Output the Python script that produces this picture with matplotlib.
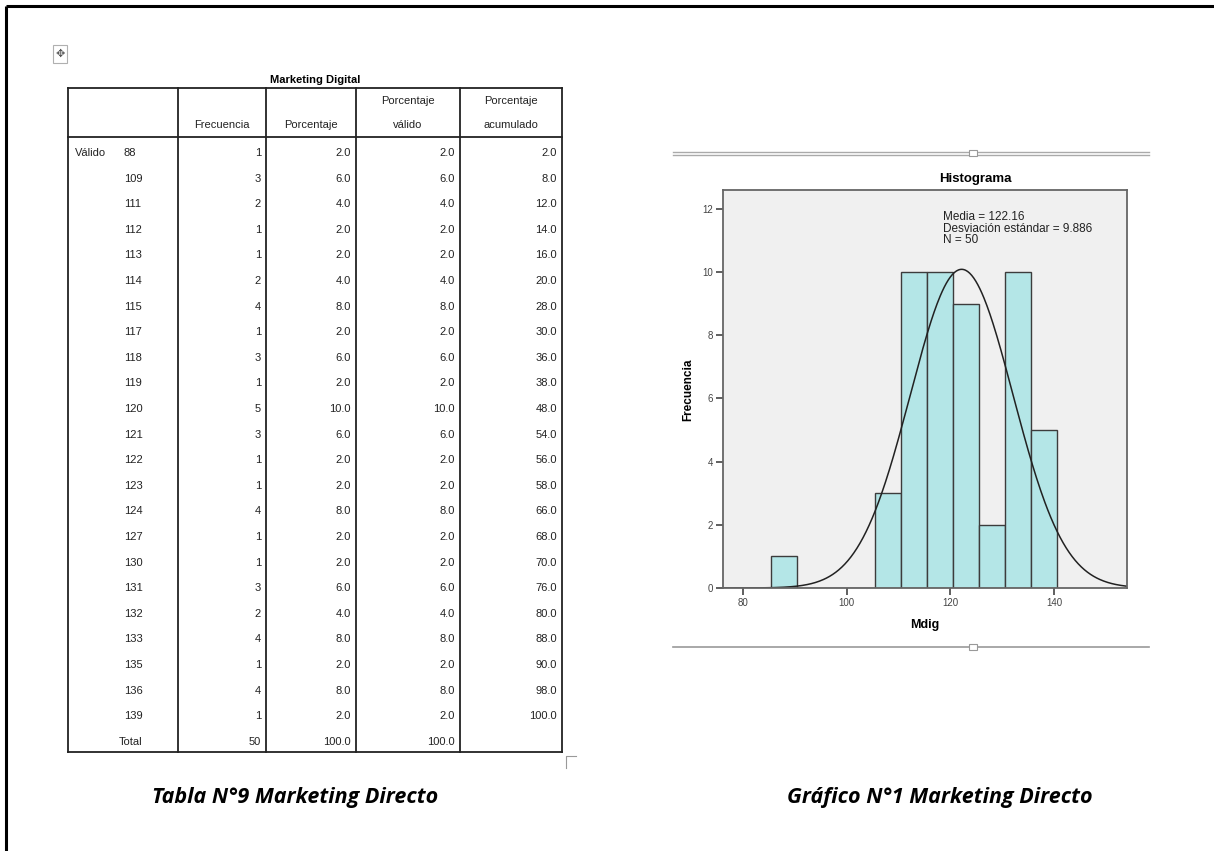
import matplotlib.pyplot as plt
import numpy as np

# datos de la tabla (Marketing Digital)
valores = [88, 109, 111, 112, 113, 114, 115, 117, 118, 119, 120, 121,
           122, 123, 124, 127, 130, 131, 132, 133, 135, 136, 139]
frecuencia = [1, 3, 2, 1, 1, 2, 4, 1, 3, 1, 5, 3, 1, 1, 4, 1, 1, 3, 2, 4, 1, 4, 1]
porcentaje = [2.0, 6.0, 4.0, 2.0, 2.0, 4.0, 8.0, 2.0, 6.0, 2.0, 10.0, 6.0,
              2.0, 2.0, 8.0, 2.0, 2.0, 6.0, 4.0, 8.0, 2.0, 8.0, 2.0]
porcentaje_valido = porcentaje
acumulado = [2.0, 8.0, 12.0, 14.0, 16.0, 20.0, 28.0, 30.0, 36.0, 38.0, 48.0, 54.0,
             56.0, 58.0, 66.0, 68.0, 70.0, 76.0, 80.0, 88.0, 90.0, 98.0, 100.0]
total_n = 50

# estadisticos del histograma
media = 122.16
desviacion = 9.886
bordes = [85.5, 90.5, 95.5, 100.5, 105.5, 110.5, 115.5, 120.5, 125.5, 130.5, 135.5, 140.5]

W, H = 1214, 851
fig = plt.figure(figsize=(W / 100, H / 100), dpi=100)
plt.rcParams['font.family'] = ['Liberation Sans', 'DejaVu Sans']

fondo = fig.add_axes([0, 0, 1, 1])
fondo.set_xlim(0, W)
fondo.set_ylim(H, 0)
fondo.axis('off')

# borde de la pagina
fondo.plot([6, W], [6, 6], color='black', lw=2.2, solid_capstyle='butt')
fondo.plot([6, 6], [6, H], color='black', lw=2.2, solid_capstyle='butt')

# icono de mover
fondo.add_patch(plt.Rectangle((53, 45), 14, 18, fill=False, ec='#b0b0b0', lw=0.8))
fondo.text(60, 54, '\u2725', fontsize=8, ha='center', va='center', color='#555555',
           family='DejaVu Sans')

# ----------------------------- tabla -----------------------------
x_cols = [68, 178, 266, 356, 460, 562]
y_top, y_head, y_bot = 88, 137, 752
fila0, paso = 153, 25.6
fs_tabla = 8
tinta = '#222222'

fondo.text(315, 80, 'Marketing Digital', fontsize=fs_tabla, fontweight='bold', ha='center', va='center')
for xc in x_cols:
    fondo.plot([xc, xc], [y_top, y_bot], color=tinta, lw=1.3)
fondo.plot([x_cols[0], x_cols[-1]], [y_top, y_top], color=tinta, lw=1.3)
fondo.plot([x_cols[0], x_cols[-1]], [y_head, y_head], color=tinta, lw=1.3)
fondo.plot([x_cols[0], x_cols[-1]], [y_bot, y_bot], color=tinta, lw=1.3)

encabezados = [('', 'Frecuencia'), ('', 'Porcentaje'), ('Porcentaje', 'válido'),
               ('Porcentaje', 'acumulado')]
for i, (l1, l2) in enumerate(encabezados):
    xc = (x_cols[i + 1] + x_cols[i + 2]) / 2
    fondo.text(xc, 101, l1, fontsize=fs_tabla, ha='center', va='center', color=tinta)
    fondo.text(xc, 125, l2, fontsize=fs_tabla, ha='center', va='center', color=tinta)

x_val = 124
fondo.text(75, fila0, 'Válido', fontsize=fs_tabla, ha='left', va='center', color=tinta)
for i, v in enumerate(valores):
    y = fila0 + i * paso
    fondo.text(x_val, y, str(v), fontsize=fs_tabla, ha='left', va='center', color=tinta)
    fondo.text(x_cols[2] - 5, y, str(frecuencia[i]), fontsize=fs_tabla, ha='right', va='center', color=tinta)
    fondo.text(x_cols[3] - 5, y, f'{porcentaje[i]:.1f}', fontsize=fs_tabla, ha='right', va='center', color=tinta)
    fondo.text(x_cols[4] - 5, y, f'{porcentaje_valido[i]:.1f}', fontsize=fs_tabla, ha='right', va='center', color=tinta)
    fondo.text(x_cols[5] - 5, y, f'{acumulado[i]:.1f}', fontsize=fs_tabla, ha='right', va='center', color=tinta)
y = fila0 + len(valores) * paso
fondo.text(x_val - 5, y, 'Total', fontsize=fs_tabla, ha='left', va='center', color=tinta)
fondo.text(x_cols[2] - 5, y, str(total_n), fontsize=fs_tabla, ha='right', va='center', color=tinta)
fondo.text(x_cols[3] - 5, y, f'{sum(porcentaje):.1f}', fontsize=fs_tabla, ha='right', va='center', color=tinta)
fondo.text(x_cols[4] - 5, y, f'{sum(porcentaje_valido):.1f}', fontsize=fs_tabla, ha='right', va='center', color=tinta)

# marca de esquina
fondo.plot([566, 566, 576], [768, 756, 756], color='#999999', lw=0.8)

# lineas del grafico
fondo.plot([673, 1149], [152, 152], color='#aaaaaa', lw=1)
fondo.plot([673, 1149], [155, 155], color='#aaaaaa', lw=1)
fondo.plot([673, 1149], [647, 647], color='#999999', lw=1.2)
for yy in (153, 647):
    fondo.add_patch(plt.Rectangle((969, yy - 3), 8, 6, fc='white', ec='#999999', lw=0.8, zorder=3))

# leyendas al pie
fondo.text(295, 797, 'Tabla N°9 Marketing Directo', fontsize=15.5, fontweight='bold',
           style='italic', ha='center', va='center', family='Open Sans')
fondo.text(940, 797, 'Gráfico N°1 Marketing Directo', fontsize=15.5, fontweight='bold',
           style='italic', ha='center', va='center', family='Open Sans')

# ----------------------------- histograma -----------------------------
ax_l, ax_r, ax_t, ax_b = 723, 1127, 190, 588
ax = fig.add_axes([ax_l / W, 1 - ax_b / H, (ax_r - ax_l) / W, (ax_b - ax_t) / H])
ax.set_facecolor('#f0f0f0')
ax.hist(valores, bins=bordes, weights=frecuencia, color='#b4e6e7', edgecolor='#3c3c3c', lw=1)

xs = np.linspace(76, 154, 400)
ancho = bordes[1] - bordes[0]
curva = total_n * ancho / (desviacion * np.sqrt(2 * np.pi)) * np.exp(-0.5 * ((xs - media) / desviacion) ** 2)
ax.plot(xs, curva, color='#222222', lw=1.1)

ax.set_xlim(76.2, 154)
ax.set_ylim(0, 12.6)
ax.set_xticks([80, 100, 120, 140])
ax.set_yticks([0, 2, 4, 6, 8, 10, 12])
ax.tick_params(axis='both', labelsize=7, labelcolor='#444444', color='#444444',
               length=5, width=1.2, pad=2)
for s in ax.spines.values():
    s.set_color('#666666')
    s.set_linewidth(1.3)

# capa superior para textos del grafico
sobre = fig.add_axes([0, 0, 1, 1])
sobre.set_xlim(0, W)
sobre.set_ylim(H, 0)
sobre.axis('off')
sobre.patch.set_alpha(0)

sobre.text(975, 179, 'Histograma', fontsize=9.5, fontweight='bold', ha='center', va='center')
sobre.text(943, 211, f'Media = {media}\nDesviación estándar = {desviacion}\nN = {total_n}',
           fontsize=8.5, ha='left', va='top', linespacing=0.95, color=tinta)
sobre.text(688, 390, 'Frecuencia', fontsize=8.5, fontweight='bold', rotation=90, ha='center', va='center')
sobre.text(925, 625, 'Mdig', fontsize=9, fontweight='bold', ha='center', va='center')

fig.savefig('out.png', dpi=100)
